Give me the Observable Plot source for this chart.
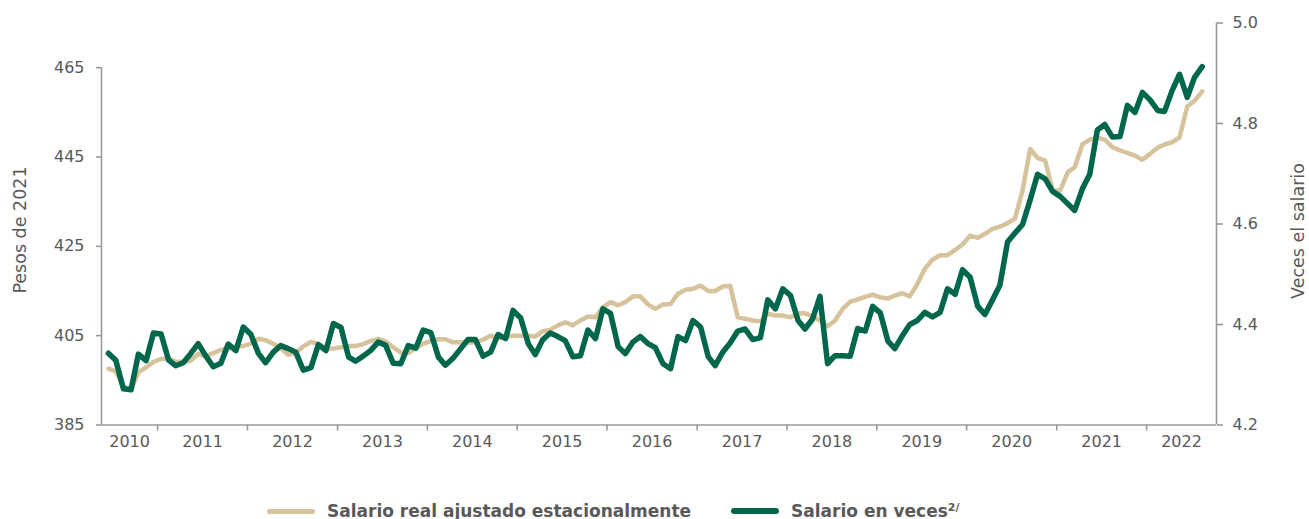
<!DOCTYPE html>
<html>
<head>
<meta charset="utf-8">
<script src="https://cdn.jsdelivr.net/npm/d3@7"></script>
<script src="https://cdn.jsdelivr.net/npm/@observablehq/plot@0.6"></script>
<style>
  html, body { margin: 0; padding: 0; background: #fff; }
  #wrap { width: 1309px; height: 519px; position: relative; font-family: "DejaVu Sans", sans-serif; }
  .legend { position: relative; height: 22px; padding-top: 3px; display: flex; align-items: center; padding-left: 267px; color: #595959; font-weight: bold; font-size: 17px; }
  .item { display: flex; align-items: center; }
  .sw { width: 48px; border-radius: 3px; margin-right: 12px; }
  sup { font-size: 11px; vertical-align: 6px; line-height: 0; }
</style>
</head>
<body>
<div id="wrap"></div>
<script>
// ---- data ----
const firstMonth = "2010-06"; // monthly series, June 2010 onward
const years = [2010, 2011, 2012, 2013, 2014, 2015, 2016, 2017, 2018, 2019, 2020, 2021, 2022];
const leftTicks = [385, 405, 425, 445, 465];
const rightTicks = [4.2, 4.4, 4.6, 4.8, 5.0];
const seriesNames = ["Salario real ajustado estacionalmente", "Salario en veces"];
const leftTitle = "Pesos de 2021";
const rightTitle = "Veces el salario";

// Salario real ajustado estacionalmente (pesos de 2021)
const salarioReal = [
397.6, 397.0, 393.6, 393.0, 396.8, 397.9, 399.1, 399.8, 399.9, 399.2,
399.1, 399.4, 400.9, 400.3, 401.1, 401.8, 402.2, 402.5, 402.7, 403.2,
404.3, 404.0, 403.2, 402.2, 400.7, 401.2, 402.6, 403.6, 403.2, 402.2,
402.1, 402.4, 402.7, 402.7, 403.1, 403.8, 404.3, 403.7, 402.4, 401.2,
401.1, 402.2, 403.2, 403.8, 404.2, 404.2, 403.5, 403.5, 403.4, 403.5,
404.1, 405.0, 404.4, 404.7, 405.0, 405.0, 405.0, 404.8, 406.0, 406.3,
407.3, 408.0, 407.3, 408.4, 409.3, 409.1, 411.4, 412.5, 411.8, 412.5,
413.8, 413.8, 412.0, 411.0, 412.0, 412.1, 414.4, 415.3, 415.5, 416.2,
415.0, 415.0, 416.0, 416.2, 409.1, 408.8, 408.4, 408.2, 409.9, 409.5,
409.5, 409.1, 410.0, 410.0, 409.3, 408.4, 407.1, 408.4, 411.0, 412.6,
413.1, 413.7, 414.2, 413.6, 413.3, 414.0, 414.5, 413.8, 416.6, 420.0,
422.0, 423.0, 423.0, 424.2, 425.4, 427.4, 426.9, 427.8, 428.9, 429.4,
430.2, 431.2, 437.5, 446.8, 444.8, 444.2, 437.5, 437.5, 441.6, 442.7,
447.8, 448.9, 449.3, 448.9, 447.2, 446.5, 445.9, 445.3, 444.4, 445.7,
447.1, 447.8, 448.3, 449.4, 456.3, 457.6, 459.7
];

// Salario en veces (eje derecho)
const salarioVeces = [
4.343, 4.329, 4.272, 4.270, 4.341, 4.328, 4.383, 4.381, 4.329, 4.318,
4.324, 4.342, 4.362, 4.338, 4.316, 4.323, 4.361, 4.348, 4.395, 4.380,
4.342, 4.324, 4.345, 4.358, 4.352, 4.345, 4.309, 4.314, 4.360, 4.348,
4.402, 4.394, 4.335, 4.327, 4.337, 4.348, 4.365, 4.359, 4.323, 4.322,
4.358, 4.353, 4.389, 4.384, 4.335, 4.319, 4.333, 4.351, 4.370, 4.370,
4.337, 4.345, 4.380, 4.372, 4.428, 4.413, 4.362, 4.340, 4.370, 4.383,
4.376, 4.368, 4.336, 4.338, 4.389, 4.372, 4.431, 4.422, 4.356, 4.342,
4.365, 4.376, 4.362, 4.354, 4.322, 4.312, 4.376, 4.368, 4.408, 4.395,
4.336, 4.318, 4.345, 4.363, 4.387, 4.391, 4.370, 4.374, 4.449, 4.431,
4.471, 4.458, 4.408, 4.391, 4.411, 4.456, 4.322, 4.338, 4.338, 4.337,
4.392, 4.387, 4.436, 4.423, 4.367, 4.352, 4.378, 4.400, 4.408, 4.424,
4.415, 4.424, 4.471, 4.460, 4.509, 4.494, 4.436, 4.420, 4.449, 4.478,
4.564, 4.582, 4.599, 4.648, 4.699, 4.690, 4.665, 4.655, 4.640, 4.627,
4.670, 4.699, 4.787, 4.798, 4.773, 4.774, 4.836, 4.822, 4.862, 4.847,
4.826, 4.824, 4.866, 4.898, 4.852, 4.892, 4.913
];

// ---- build ----
const colReal = "#D6C39C";
const colVeces = "#00674C";
const axisGray = "#9a9a9a";
const textGray = "#595959";

const leftDomain = [385, 475];
const rightDomain = [4.2, 5.0];
const k = (leftDomain[1] - leftDomain[0]) / (rightDomain[1] - rightDomain[0]);
const toLeft = (w) => leftDomain[0] + (w - rightDomain[0]) * k;
const fromLeft = (v) => rightDomain[0] + (v - leftDomain[0]) / k;

const start = d3.utcParse("%Y-%m")(firstMonth);
const rows = salarioReal.map((v, i) => ({
  date: d3.utcDay.offset(d3.utcMonth.offset(start, i), 14),
  real: v,
  veces: salarioVeces[i]
}));

const xStart = new Date(Date.UTC(2010, 4, 18));
const xEnd = new Date(Date.UTC(2022, 9, 12));
const boundaries = years.slice(1).map(y => new Date(Date.UTC(y, 0, 1)));
const mids = years.map(y => {
  const lo = Math.max(Date.UTC(y, 0, 1), +xStart);
  const hi = Math.min(Date.UTC(y + 1, 0, 1), +xEnd);
  return new Date((lo + hi) / 2);
});
const midYear = new Map(mids.map((d, i) => [+d, years[i]]));

const chart = Plot.plot({
  width: 1309,
  height: 497,
  marginLeft: 101,
  marginRight: 93,
  marginTop: 22.5,
  marginBottom: 72.5,
  style: { fontFamily: "DejaVu Sans, sans-serif", fontSize: "16px", background: "#fff", color: textGray, overflow: "visible" },
  x: { type: "utc", domain: [xStart, xEnd] },
  y: { domain: leftDomain },
  marks: [
    Plot.ruleY([leftDomain[0]], { stroke: axisGray, strokeWidth: 1.6 }),
    Plot.ruleX([xStart], { y1: leftDomain[0], y2: leftTicks[leftTicks.length - 1], stroke: axisGray, strokeWidth: 1.6 }),
    Plot.ruleX([xEnd], { stroke: axisGray, strokeWidth: 1.6 }),
    Plot.axisY(leftTicks, { anchor: "left", tickSize: 5, tickPadding: 12, stroke: axisGray, strokeWidth: 1.6, fill: textGray, fontSize: 16, label: null }),
    Plot.axisY(rightTicks.map(toLeft), { anchor: "right", tickSize: 6, tickPadding: 10, stroke: axisGray, strokeWidth: 1.6, fill: textGray, fontSize: 16, label: null, tickFormat: d => fromLeft(d).toFixed(1) }),
    Plot.axisX(boundaries, { anchor: "bottom", tickSize: 6, stroke: axisGray, strokeWidth: 1.6, tickFormat: () => "", label: null }),
    Plot.axisX(mids, { anchor: "bottom", tickSize: 0, tickPadding: 11, fill: textGray, fontSize: 16, label: null, tickFormat: d => String(midYear.get(+d)) }),
    Plot.line(rows, { x: "date", y: "real", stroke: colReal, strokeWidth: 4.5 }),
    Plot.line(rows, { x: "date", y: d => toLeft(d.veces), stroke: colVeces, strokeWidth: 5.5 }),
    Plot.text([leftTitle], { frameAnchor: "left", textAnchor: "middle", dx: -81.5, dy: 6, rotate: -90, fill: textGray, fontSize: 17.5 }),
    Plot.text([rightTitle], { frameAnchor: "right", textAnchor: "middle", dx: 82, dy: 7, rotate: -90, fill: textGray, fontSize: 17.5 })
  ]
});

const wrap = document.getElementById("wrap");
wrap.appendChild(chart);

const legend = document.createElement("div");
legend.className = "legend";
legend.innerHTML = `
  <div class="item"><span class="sw" style="height:5px;background:${colReal}"></span><span>${seriesNames[0]}</span></div>
  <div class="item" style="margin-left:40px"><span class="sw" style="height:6px;background:${colVeces}"></span><span>${seriesNames[1]}<sup>2/</sup></span></div>`;
wrap.appendChild(legend);
</script>
</body>
</html>
